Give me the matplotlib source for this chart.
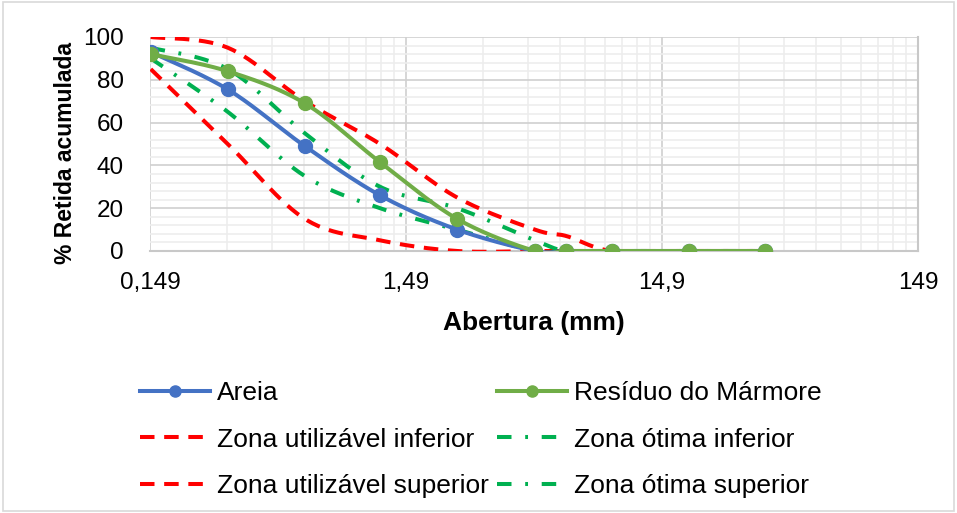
import numpy as np
import matplotlib.pyplot as plt
from matplotlib.ticker import FixedLocator, NullFormatter
from matplotlib.lines import Line2D

plt.rcParams['font.family'] = ['Liberation Sans', 'DejaVu Sans']

# sieve openings (mm) and cumulative % retained
aberturas = [0.15, 0.3, 0.6, 1.18, 2.36, 4.75, 6.3, 9.5, 19, 37.5]
areia = [93, 75.5, 49, 26, 10, 0, 0, 0, 0, 0]
residuo = [92, 84, 69, 41.5, 15, 0, 0, 0, 0, 0]
util_inf = [85, 50, 15, 5, 0, 0, 0, 0, 0, 0]
util_sup = [100, 95, 70, 50, 25, 10, 7, 0, 0, 0]
otima_inf = [90, 65, 35, 20, 10, 0, 0, 0, 0, 0]
otima_sup = [95, 85, 55, 30, 20, 5, 0, 0, 0, 0]

x_ticks = [0.149, 1.49, 14.9, 149]
x_labels = ["0,149", "1,49", "14,9", "149"]


def smooth(x, y, n=30):
    """Excel-like smoothed line (bezier through points, log-x space)."""
    lx = np.log10(x)
    y = np.asarray(y, float)
    P = np.column_stack([lx, y])
    P = np.vstack([P[0], P, P[-1]])
    out = []
    t = np.linspace(0, 1, n)[:, None]
    for i in range(1, len(P) - 2):
        p0, p1, p2, p3 = P[i - 1], P[i], P[i + 1], P[i + 2]
        c1 = p1 + (p2 - p0) / 6
        c2 = p2 - (p3 - p1) / 6
        seg = ((1 - t) ** 3) * p1 + 3 * ((1 - t) ** 2) * t * c1 \
            + 3 * (1 - t) * t ** 2 * c2 + t ** 3 * p2
        out.append(seg if i == 1 else seg[1:])
    out = np.vstack(out)
    return 10 ** out[:, 0], out[:, 1]


fig = plt.figure(figsize=(9.57, 5.13), dpi=100)
ax = fig.add_axes([150 / 957, 1 - 251 / 513, 768 / 957, 214 / 513])

blue, green, red, green2 = "#4472C4", "#70AD47", "#FF0000", "#00B050"
lw = 2.9
dash = (0, (3.6, 2.4))
dashdot = (0, (3.6, 3.4, 0.7, 3.4))

for yv, c, ls in [(util_inf, red, dash), (util_sup, red, dash),
                  (otima_inf, green2, dashdot), (otima_sup, green2, dashdot)]:
    sx, sy = smooth(aberturas, yv)
    ax.plot(sx, sy, color=c, lw=lw, linestyle=ls, zorder=3)

for yv, c in [(areia, blue), (residuo, green)]:
    sx, sy = smooth(aberturas, yv)
    ax.plot(sx, sy, color=c, lw=lw, zorder=4)
    ax.plot(aberturas, yv, 'o', color=c, ms=10, zorder=5)

ax.set_xscale('log')
ax.set_xlim(0.149, 149)
ax.set_ylim(0, 100)
ax.xaxis.set_major_locator(FixedLocator(x_ticks))
ax.set_xticklabels(x_labels)
minors = [0.149 * 10 ** d * k for d in range(3) for k in range(2, 10)]
ax.xaxis.set_minor_locator(FixedLocator(minors))
ax.xaxis.set_minor_formatter(NullFormatter())
ax.set_yticks(range(0, 101, 20))
ax.set_yticks(range(0, 101, 4), minor=True)

ax.grid(which='major', color='#D0D0D0', lw=1.2, zorder=0)
ax.grid(which='minor', color='#EDEDED', lw=1.2, zorder=0)
ax.set_axisbelow(True)
ax.tick_params(which='both', length=0)
ax.tick_params(axis='x', pad=15, labelsize=17.5)
ax.tick_params(axis='y', pad=19, labelsize=17.5)
for s in ['left', 'top']:
    ax.spines[s].set_visible(False)
for s in ['bottom', 'right']:
    ax.spines[s].set_color('#C8C8C8')
    ax.spines[s].set_linewidth(1.5)

fig.text(534 / 957, 1 - 323 / 513, "Abertura (mm)", ha='center', va='center',
         fontsize=19, fontweight='bold')
fig.text(65 / 957, 1 - 153 / 513, "% Retida acumulada", ha='center', va='center',
         rotation=90, fontsize=16.5, fontweight='bold')

handles = [
    Line2D([], [], color=blue, lw=lw, marker='o', ms=8),
    Line2D([], [], color=red, lw=lw, linestyle=dash),
    Line2D([], [], color=red, lw=lw, linestyle=dash),
    Line2D([], [], color=green, lw=lw, marker='o', ms=8),
    Line2D([], [], color=green2, lw=lw, linestyle=dashdot),
    Line2D([], [], color=green2, lw=lw, linestyle=dashdot),
]
labels = ["Areia", "Zona utilizável inferior", "Zona utilizável superior",
          "Resíduo do Mármore", "Zona ótima inferior", "Zona ótima superior"]
fig.legend(handles, labels, ncol=2, loc='upper left',
           bbox_to_anchor=(140 / 957, 1 - 381 / 513), frameon=False,
           fontsize=19, handlelength=2.65, handletextpad=0.27,
           columnspacing=0.3, labelspacing=0.86, borderpad=0, borderaxespad=0)

fig.patches.append(plt.Rectangle((0.003, 0.003), 0.994, 0.994, transform=fig.transFigure,
                                 fill=False, edgecolor='#D9D9D9', lw=1.2))

fig.savefig("out.png", dpi=100)
